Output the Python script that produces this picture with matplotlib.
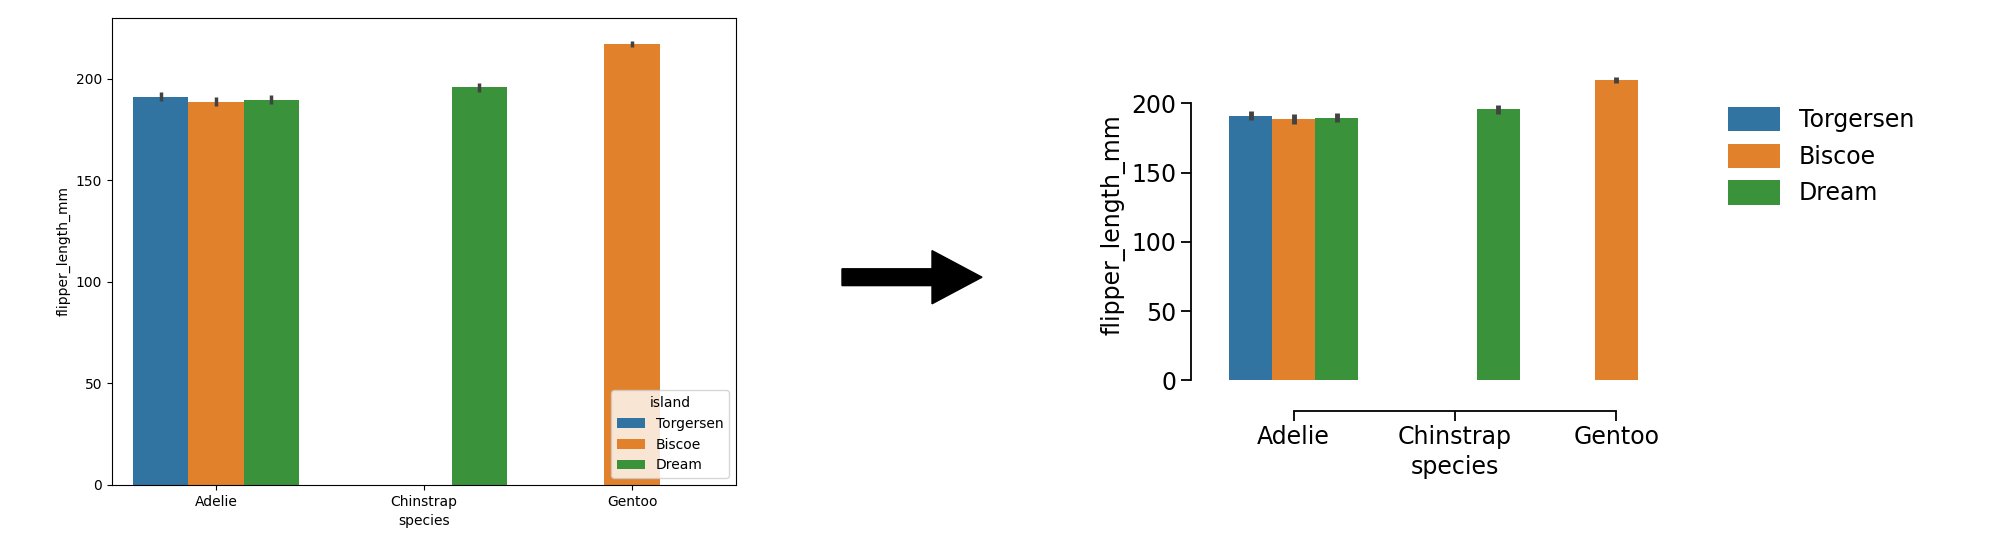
import numpy as np
import matplotlib.pyplot as plt
from matplotlib.patches import FancyArrow

species = ["Adelie", "Chinstrap", "Gentoo"]
islands = ["Torgersen", "Biscoe", "Dream"]
colors = ["#3274a1", "#e1812c", "#3a923a"]
# mean flipper length per (species, island); None = no data
means = {
    "Torgersen": [191.2, None, None],
    "Biscoe": [188.8, None, 217.2],
    "Dream": [189.7, 195.8, None],
}
errs = {
    "Torgersen": [2.2, None, None],
    "Biscoe": [2.4, None, 1.6],
    "Dream": [2.3, 2.2, None],
}


def draw_bars(ax, lw, escale=1.0):
    width = 0.8 / 3
    for i, isl in enumerate(islands):
        first = True
        for j, sp in enumerate(species):
            m = means[isl][j]
            if m is None:
                continue
            x = j - 0.4 + width * (i + 0.5)
            ax.bar(x, m, width, color=colors[i], label=isl if first else None)
            first = False
            e = errs[isl][j] * escale
            ax.plot([x, x], [m - e, m + e], color="#424242", lw=lw, solid_capstyle="butt")


fig = plt.figure(figsize=(20, 5.6), dpi=100)

# left: default seaborn-like barplot
ax1 = fig.add_axes([0.056, 0.134, 0.312, 0.834])
draw_bars(ax1, 2.5)
ax1.set_xlim(-0.5, 2.5)
ax1.set_ylim(0, 230)
ax1.set_xticks(range(3))
ax1.set_xticklabels(species, fontsize=10)
ax1.set_yticks([0, 50, 100, 150, 200])
ax1.tick_params(labelsize=10)
ax1.set_xlabel("species", fontsize=10)
ax1.set_ylabel("flipper_length_mm", fontsize=10)
ax1.legend(title="island", loc="lower right", fontsize=10, title_fontsize=10)

# arrow
fig.add_artist(FancyArrow(0.421, 0.505, 0.045, 0, width=0.03, head_width=0.095,
                          head_length=0.025, color="black", transform=fig.transFigure,
                          length_includes_head=False))

# right: despined, offset, trimmed
ax2 = fig.add_axes([0.6065, 0.321, 0.242, 0.556])
draw_bars(ax2, 3.5, 1.4)
ax2.set_xlim(-0.5, 2.5)
ax2.set_ylim(0, 225)
ax2.set_xticks(range(3))
ax2.set_xticklabels(species)
ax2.set_yticks([0, 50, 100, 150, 200])
ax2.tick_params(labelsize=17, length=7, width=1.3)
ax2.set_xlabel("species", fontsize=17)
ax2.set_ylabel("flipper_length_mm", fontsize=17)
for s in ["top", "right"]:
    ax2.spines[s].set_visible(False)
ax2.spines["left"].set_position(("outward", 16))
ax2.spines["bottom"].set_position(("outward", 22))
ax2.spines["left"].set_bounds(0, 200)
ax2.spines["bottom"].set_bounds(0, 2)
for s in ["left", "bottom"]:
    ax2.spines[s].set_linewidth(1.3)
ax2.legend(loc="center left", bbox_to_anchor=(1.02, 0.72), frameon=False, fontsize=17,
           handlelength=2.2, handleheight=1.2)

fig.savefig("out.png")
